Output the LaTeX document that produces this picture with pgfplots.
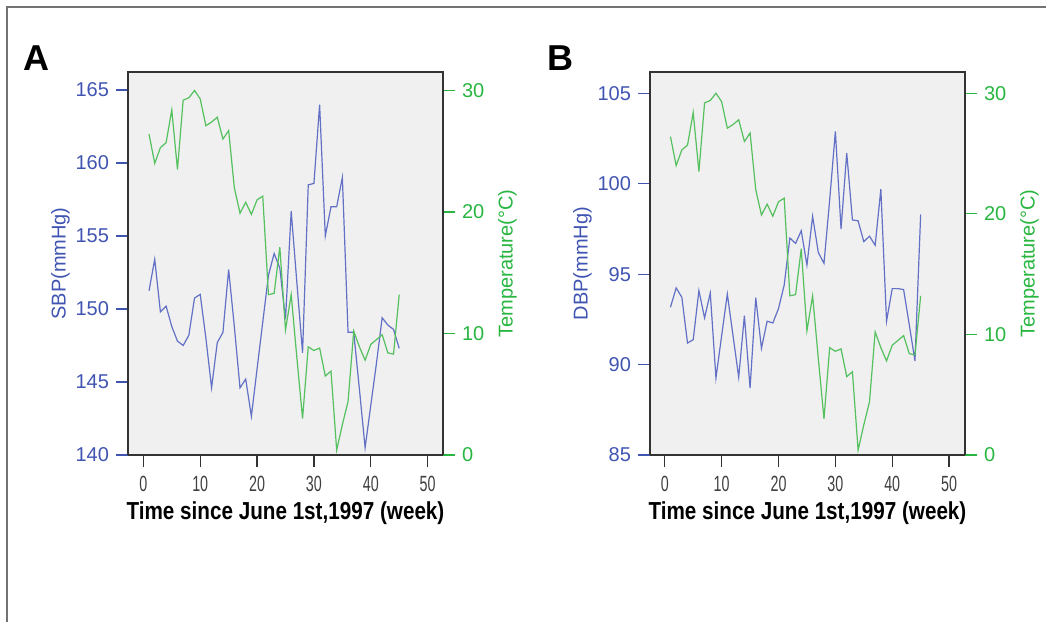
\documentclass[border=0pt]{standalone}
\usepackage{fontspec}
\setmainfont{Liberation Sans}
\newfontfamily\narrowfont[FakeStretch=0.65]{Liberation Sans}
\newfontfamily\labelfont[FakeStretch=0.84]{Liberation Sans}
\usepackage{pgfplots}
\pgfplotsset{compat=1.18}

\definecolor{bpline}{RGB}{98,112,198}
\definecolor{bptext}{RGB}{64,84,178}
\definecolor{tline}{RGB}{84,192,94}
\definecolor{ttext}{RGB}{40,182,64}
\definecolor{panelbg}{RGB}{240,240,240}

% weekly means: systolic / diastolic blood pressure and temperature
\pgfplotstableread{
week sbp dbp temp
1 151.25 93.17 26.4
2 153.4 94.24 24.0
3 149.8 93.72 25.3
4 150.2 91.19 25.7
5 148.8 91.38 28.4
6 147.8 94.09 23.5
7 147.5 92.58 29.2
8 148.2 93.96 29.4
9 150.75 89.26 30.0
10 151.0 91.6 29.3
11 148.0 93.9 27.1
12 144.6 91.6 27.4
13 147.7 89.3 27.8
14 148.4 92.7 26.0
15 152.7 88.7 26.7
16 148.8 93.7 22.0
17 144.6 90.9 19.9
18 145.2 92.4 20.8
19 142.65 92.3 19.8
20 145.9 93.1 21.0
21 149.1 94.4 21.3
22 152.3 97.0 13.2
23 153.8 96.7 13.3
24 152.8 97.4 17.1
25 149.3 95.5 10.3
26 156.7 98.2 13.2
27 151.8 96.2 8.0
28 147.0 95.6 3.0
29 158.5 99.1 8.9
30 158.6 102.9 8.6
31 164.0 97.5 8.8
32 155.0 101.7 6.5
33 157.0 98.0 6.9
34 157.0 97.95 0.4
35 159.0 96.8 2.5
36 148.4 97.1 4.4
37 148.4 96.6 10.2
38 144.5 99.7 8.9
39 140.5 92.4 7.8
40 143.4 94.2 9.1
41 146.3 94.2 9.5
42 149.4 94.15 9.9
43 148.9 92.2 8.4
44 148.6 90.2 8.3
45 147.3 98.3 13.2
}\bpdata

\pgfplotsset{
  panel/.style={scale only axis, width=157.5pt, height=191.5pt,
    anchor=south west, tick align=outside, major tick length=6pt,
    /pgf/number format/assume math mode=true,
    axis line style={black!80, line width=0.6pt}},
  boxaxis/.style={panel, axis background/.style={fill=panelbg},
    ytick=\empty, xtick={0,10,...,50}, xtick pos=left,
    tick style={black!80, line width=0.6pt},
    xticklabel style={font=\narrowfont\fontsize{11}{11}\selectfont, text=black!75, yshift=-1pt},
    xlabel={Time since June 1st,1997 (week)},
    xlabel style={font=\labelfont\bfseries\fontsize{12.3}{12.3}\selectfont, yshift=2pt}},
  bpaxis/.style={panel, hide x axis, axis y line*=left,
    tick style={bptext, line width=0.6pt},
    yticklabel style={font=\fontsize{10}{10}\selectfont, text=bptext},
    ylabel shift=-4pt,
    ylabel style={font=\fontsize{10}{10}\selectfont, text=bptext}},
  taxis/.style={panel, hide x axis, axis y line*=right, ymin=0,
    ytick={0,10,20,30},
    tick style={ttext, line width=0.6pt},
    yticklabel style={font=\fontsize{10}{10}\selectfont, text=ttext},
    ylabel={Temperature(°C)},
    ylabel style={font=\fontsize{10}{10}\selectfont, text=ttext}},
}

\begin{document}
\begin{tikzpicture}
\path[use as bounding box] (0,0) rectangle (523pt,311pt);
\draw[black!55, line width=0.8pt] (3.5pt,0) -- (3.5pt,307.5pt) -- (523pt,307.5pt);

% panel A
\begin{axis}[boxaxis, at={(64pt,83.5pt)}, xmin=-2.7, xmax=52.7, ymin=140, ymax=166.23]
\addplot[bpline, line width=0.6pt] table[x=week, y=sbp] {\bpdata};
\end{axis}
\begin{axis}[bpaxis, at={(64pt,83.5pt)}, xmin=-2.7, xmax=52.7, ymin=140, ymax=166.23,
  ytick={140,145,...,165}, ylabel={SBP(mmHg)}]
\end{axis}
\begin{axis}[taxis, at={(64pt,83.5pt)}, xmin=-2.7, xmax=52.7, ymax=31.52]
\addplot[tline, line width=0.6pt] table[x=week, y=temp] {\bpdata};
\end{axis}

% panel B
\begin{axis}[boxaxis, at={(325pt,83.5pt)}, xmin=-2.6, xmax=52.8, ymin=85, ymax=106.18]
\addplot[bpline, line width=0.6pt] table[x=week, y=dbp] {\bpdata};
\end{axis}
\begin{axis}[bpaxis, at={(325pt,83.5pt)}, xmin=-2.6, xmax=52.8, ymin=85, ymax=106.18,
  ytick={85,90,...,105}, ylabel={DBP(mmHg)}]
\end{axis}
\begin{axis}[taxis, at={(325pt,83.5pt)}, xmin=-2.6, xmax=52.8, ymax=31.76]
\addplot[tline, line width=0.6pt] table[x=week, y=temp] {\bpdata};
\end{axis}

\node[font=\bfseries\fontsize{18}{18}\selectfont] at (18pt,282pt) {A};
\node[font=\bfseries\fontsize{18}{18}\selectfont] at (280pt,282pt) {B};
\end{tikzpicture}
\end{document}
